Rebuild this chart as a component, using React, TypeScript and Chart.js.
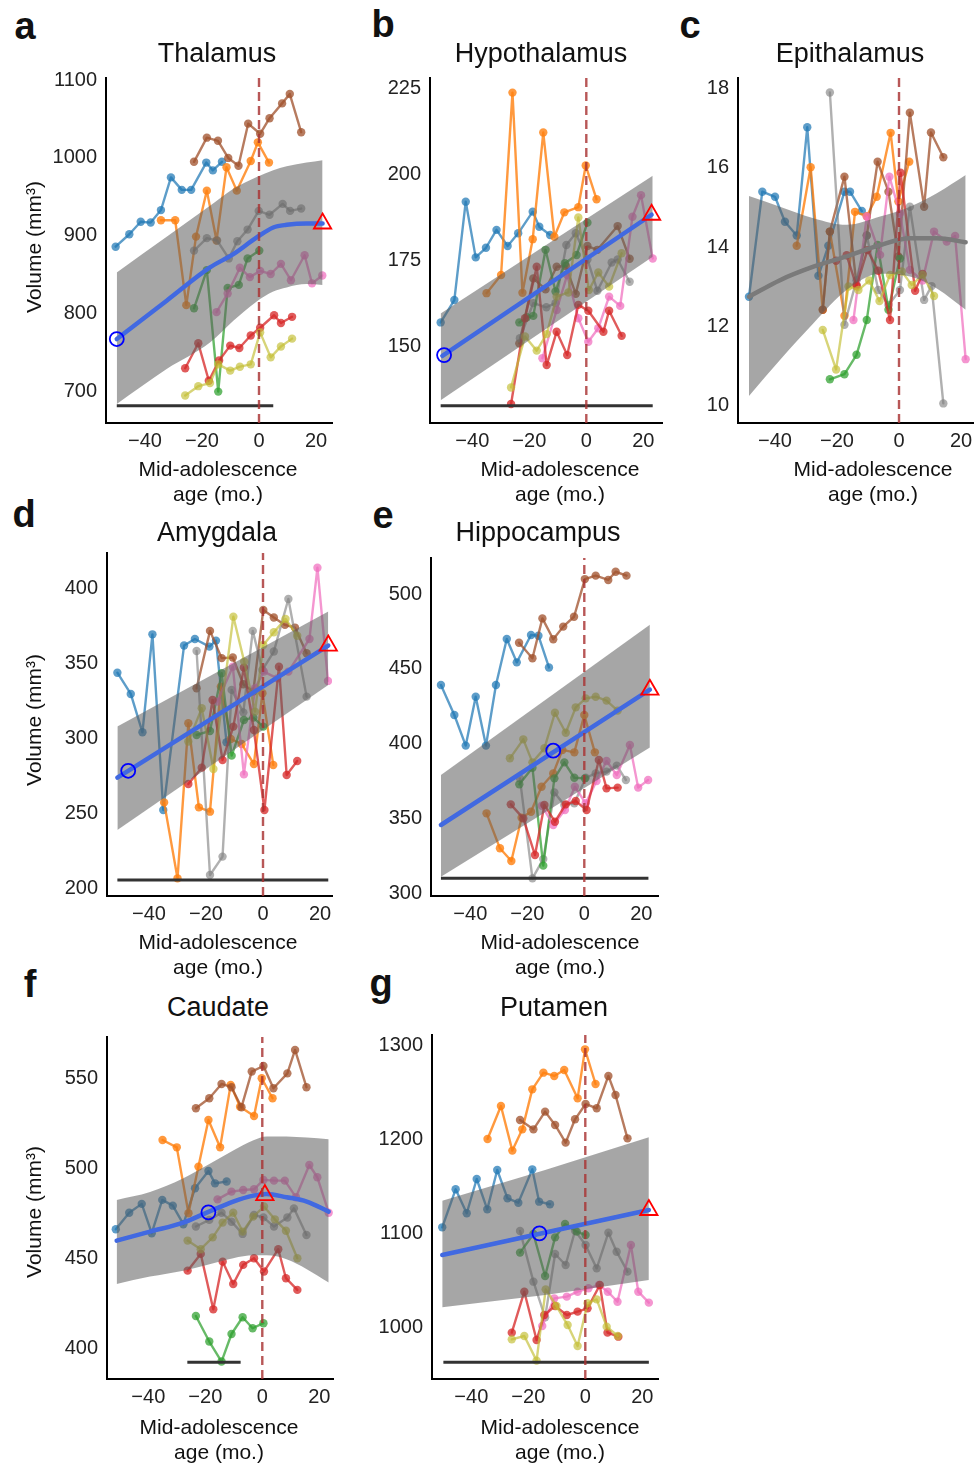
import React, { useEffect, useRef } from 'react';
import { Chart, registerables } from 'chart.js';
Chart.register(...registerables);

type P = [number, number];

const FONT = '"Liberation Sans", Arial, Helvetica, sans-serif';

// ---------- text ----------
const X_TICKS = [-40, -20, 0, 20];
const X_TITLE = ['Mid-adolescence', 'age (mo.)'];
const Y_TITLE = 'Volume (mm³)';
const LETTERS = ['a', 'b', 'c', 'd', 'e', 'f', 'g'];
const TITLES = ['Thalamus', 'Hypothalamus', 'Epithalamus', 'Amygdala', 'Hippocampus', 'Caudate', 'Putamen'];

// ---------- y ticks ----------
const thalTicks = [700, 800, 900, 1000, 1100];
const hypoTicks = [150, 175, 200, 225];
const epiTicks = [10, 12, 14, 16, 18];
const amyTicks = [200, 250, 300, 350, 400];
const hipTicks = [300, 350, 400, 450, 500];
const cauTicks = [400, 450, 500, 550];
const putTicks = [1000, 1100, 1200, 1300];

// ---------- a: Thalamus ----------
const thalBlue: P[] = [[-50.3,886],[-45.5,902],[-41.5,918],[-38.0,917],[-34.4,933],[-30.9,975],[-27.1,959],[-23.8,959],[-18.5,994],[-16.2,984],[-13.0,995]];
const thalOrange: P[] = [[-34.4,920],[-29.4,920],[-25.5,811],[-22.1,899],[-18.3,958],[-14.9,894],[-11.4,988],[-7.8,958],[-2.9,996],[-0.4,1020],[3.5,994]];
const thalBrown: P[] = [[-22.8,995],[-18.3,1026],[-14.4,1022],[-10.8,1000],[-7.2,990],[-3.8,1044],[0.4,1031],[3.7,1051],[8.1,1070],[10.8,1082],[14.8,1033]];
const thalGray: P[] = [[-22.8,881],[-18.3,897],[-14.7,894],[-10.6,871],[-7.6,893],[-4.0,908],[-0.1,932],[3.7,927],[8.3,941],[10.9,932],[14.8,935]];
const thalGreen: P[] = [[-22.8,807],[-18.3,856],[-14.3,700],[-11.0,833],[-7.1,837],[-4.0,871],[0.1,881]];
const thalPink: P[] = [[-14.9,802],[-11.0,826],[-6.7,859],[-3.2,847],[0.4,855],[4.1,851],[7.7,864],[11.2,843],[16.0,875],[18.6,839],[22.2,849]];
const thalRed: P[] = [[-25.9,730],[-21.3,762],[-17.6,714],[-14.0,740],[-10.1,759],[-6.9,756],[-2.9,772],[0.4,782],[5.3,798],[7.7,788],[11.6,796]];
const thalOlive: P[] = [[-25.9,695],[-21.3,707],[-17.2,711],[-14.3,735],[-10.1,727],[-6.7,732],[-2.9,735],[0.4,776],[4.1,744],[7.7,758],[11.6,768]];
const thalFitX = [-49.9,-32.4,-17.2,-9.0,-0.8,5.0,9.7,16.7,22.3];
const thalFitY = [767.5,816.7,859.4,876.5,897.9,910.7,914.1,915.8,915.8];
const thalUpper = [853,898.7,938.5,960.3,975.6,984.2,989.3,994,997];
const thalLower = [684.2,729,763,791,815.8,828.6,833.8,838,837];
const thalCircle: P = [-49.9, 767.5];
const thalTriangle: P = [22.3, 915.8];
const thalBase: P[] = [[-49.9,682],[5.0,682]];

// ---------- b: Hypothalamus ----------
const hypoBlue: P[] = [[-51.1,157.0],[-46.3,163.5],[-42.3,192.1],[-38.8,175.9],[-35.2,178.7],[-31.5,183.9],[-27.6,179.2],[-23.9,182.9],[-18.8,189.2],[-16.5,184.8],[-12.7,182.4]];
const hypoOrange: P[] = [[-35.0,165.5],[-29.9,170.8],[-25.9,223.8],[-22.4,165.6],[-18.8,181.2],[-15.1,212.2],[-11.2,181.9],[-7.7,189.0],[-2.8,190.5],[-0.2,202.6],[3.6,192.8]];
const hypoBrown: P[] = [[-23.5,150.9],[-18.6,169.8],[-14.3,166.6],[-10.4,173.2],[-7.2,173.4],[-3.7,165.3],[0.4,179.2],[3.9,178.1],[11.0,185.0],[15.2,175.5]];
const hypoGreen: P[] = [[-23.5,157.0],[-20.9,158.5],[-18.6,158.9],[-14.3,178.1],[-10.8,166.0],[-7.5,174.2],[-3.4,176.6],[0.4,186.0]];
const hypoGray: P[] = [[-23.3,152.4],[-18.6,162.6],[-14.0,161.4],[-10.8,162.6],[-7.0,179.5],[-3.7,182.9],[0.4,175.3],[3.9,166.2],[8.9,174.4],[11.0,175.3],[15.2,168.8]];
const hypoOlive: P[] = [[-26.4,138.1],[-21.5,152.9],[-17.4,148.8],[-13.9,153.6],[-10.4,164.5],[-6.3,165.7],[-2.8,187.5],[0.9,166.4],[4.2,171.5],[8.0,167.4],[12.4,177.1]];
const hypoRed: P[] = [[-26.4,133.3],[-21.5,158.2],[-17.4,173.2],[-13.9,144.6],[-10.4,154.3],[-6.7,147.5],[-2.8,162.1],[0.7,160.4],[6.0,154.3],[8.0,160.4],[12.4,153.1]];
const hypoPink: P[] = [[-15.4,146.6],[-10.4,160.6],[-6.7,170.8],[-2.8,158.2],[0.7,151.4],[4.2,155.3],[8.0,164.5],[11.9,161.8],[16.2,187.7],[19.2,194.0],[23.3,175.6]];
const hypoFitX = [-50.5, 22.9];
const hypoFitY = [147.3, 188.3];
const hypoBandX = [-51.1, 23.3];
const hypoUpper = [159.6, 199.6];
const hypoLower = [134.4, 176.1];
const hypoCircle: P = [-49.9, 147.5];
const hypoTriangle: P = [22.9, 188.3];
const hypoBase: P[] = [[-51.1,132.8],[23.3,132.8]];

// ---------- c: Epithalamus ----------
const epiBlue: P[] = [[-48.4,12.74],[-44.1,15.40],[-40.0,15.27],[-36.8,14.64],[-33.0,14.29],[-29.6,17.03],[-26.0,13.27],[-22.8,14.03],[-17.6,15.40],[-15.8,15.40],[-12.0,14.91]];
const epiOrange: P[] = [[-33.0,14.03],[-28.5,16.02],[-24.6,12.41],[-22.3,14.39],[-17.6,12.26],[-14.2,14.89],[-10.4,14.78],[-7.2,15.27],[-2.7,16.89],[-0.2,15.15],[3.3,16.16]];
const epiBrown: P[] = [[-24.6,12.41],[-22.3,14.39],[-17.6,15.78],[-13.7,13.04],[-10.4,14.29],[-6.9,16.16],[-3.4,15.40],[-0.2,13.76],[3.5,17.40],[8.1,15.02],[10.3,16.90],[14.3,16.27]];
const epiGray: P[] = [[-22.3,17.91],[-17.6,12.03],[-13.7,13.16],[-10.4,14.29],[-6.7,12.91],[-3.4,12.53],[0.3,12.91],[3.5,15.02],[8.1,12.66],[10.5,13.01],[14.3,10.04]];
const epiGreen: P[] = [[-22.3,10.65],[-17.6,10.78],[-13.7,11.27],[-10.4,12.15],[-6.9,14.05],[-3.4,12.41],[0.3,13.71]];
const epiOlive: P[] = [[-24.6,11.90],[-20.3,10.90],[-16.3,13.00],[-13.1,12.91],[-9.6,13.15],[-6.3,12.63],[-2.9,13.29],[0.9,13.38],[4.1,13.04],[7.6,13.29],[11.3,12.76]];
const epiPink: P[] = [[-14.7,12.15],[-10.4,14.77],[-6.1,13.80],[-3.1,15.78],[0.3,14.85],[3.5,13.42],[7.6,13.15],[11.3,14.39],[15.4,14.14],[18.1,14.28],[21.5,11.16]];
const epiRed: P[] = [[-20.3,13.65],[-16.9,13.79],[-13.7,13.01],[-10.2,13.92],[-6.7,13.40],[-2.9,12.15],[0.5,15.88],[5.2,12.89],[7.6,13.32]];
const epiFitX = [-48.4,-38.4,-27.6,-16.9,-6.1,3.5,12.2,21.5];
const epiFitY = [12.74,13.16,13.50,13.76,14.05,14.22,14.22,14.12];
const epiUpper = [15.29,15.02,14.73,14.56,14.77,15.02,15.36,15.82];
const epiLower = [10.23,11.14,12.07,12.91,13.32,13.25,12.95,12.41];

// ---------- d: Amygdala ----------
const amyBlue: P[] = [[-51.1,344.1],[-46.4,329.9],[-42.3,304.3],[-38.8,369.7],[-35.0,252.4],[-27.7,362.2],[-23.9,366.6],[-18.8,361.5],[-16.5,365.5],[-12.8,297.6]];
const amyOrange: P[] = [[-34.7,257.5],[-30.0,206.8],[-26.2,310.3],[-22.5,254.2],[-18.6,251.3],[-14.8,334.8],[-11.3,299.8],[-7.5,296.5],[-3.2,283.1],[-0.2,330.4],[3.6,282.5]];
const amyBrown: P[] = [[-23.3,333.7],[-18.6,372.0],[-14.5,353.8],[-10.6,354.2],[-6.9,336.4],[-3.4,331.5],[0.1,386.0],[3.8,380.9],[7.7,376.0],[11.2,374.2],[15.3,357.1]];
const amyGray: P[] = [[-23.3,358.6],[-18.6,209.0],[-14.2,221.3],[-11.0,332.6],[-6.9,317.6],[-3.6,372.0],[-0.2,345.9],[3.8,358.2],[8.9,393.3],[15.3,328.1]];
const amyOlive: P[] = [[-26.2,298.1],[-21.5,320.3],[-17.4,279.8],[-10.4,381.5],[-6.6,351.5],[-2.8,318.1],[0.1,362.6],[3.8,371.1],[7.9,380.0],[12.0,368.8]];
const amyGreen: P[] = [[-23.3,302.5],[-18.6,305.2],[-14.5,343.7],[-11.0,288.7],[-6.7,312.5],[-3.4,314.1],[0.1,308.1]];
const amyRed: P[] = [[-26.2,269.8],[-21.5,280.7],[-17.7,325.9],[-14.2,285.8],[-10.4,308.1],[-6.7,347.5],[-3.2,305.8],[0.5,252.4],[5.6,348.1],[8.3,275.8],[12.0,285.1]];
const amyPink: P[] = [[-16.0,324.8],[-10.6,348.1],[-6.7,276.2],[-2.8,333.7],[0.3,344.8],[5.0,340.3],[8.9,344.8],[16.3,366.6],[19.1,414.2],[22.8,338.6]];
const amyFitX = [-51.1, 22.9];
const amyFitY = [274.0, 362.2];
const amyBandX = [-51.1, 22.9];
const amyUpper = [308.1, 384.9];
const amyLower = [239.1, 335.9];
const amyCircle: P = [-47.3, 278.6];
const amyTriangle: P = [22.9, 362.2];
const amyBase: P[] = [[-51.1,205.7],[22.9,205.7]];

// ---------- e: Hippocampus ----------
const hipBlue: P[] = [[-50.3,439.1],[-45.6,419.1],[-41.6,398.6],[-38.1,431.3],[-34.5,398.6],[-31.0,439.1],[-27.2,469.9],[-23.7,454.3],[-18.7,472.6],[-16.1,472.1],[-12.4,450.9]];
const hipBrown: P[] = [[-22.9,467.4],[-18.2,457.0],[-14.7,483.7],[-10.9,469.7],[-7.4,478.2],[-3.6,484.8],[0.2,510.0],[4.0,512.3],[8.4,509.4],[11.0,514.9],[14.8,512.3]];
const hipOlive: P[] = [[-26.1,390.1],[-21.4,402.8],[-18.2,387.4],[-14.0,396.8],[-10.3,420.6],[-6.5,407.2],[-3.0,424.2],[0.5,430.2],[4.0,431.3],[7.8,428.7],[11.7,422.0]];
const hipOrange: P[] = [[-34.3,353.3],[-29.6,329.9],[-25.6,321.4],[-22.0,350.4],[-18.7,354.4],[-15.0,371.1],[-10.9,380.0],[-7.7,395.7],[-3.5,394.1],[0.0,419.1],[3.7,394.1]];
const hipGreen: P[] = [[-22.8,372.7],[-18.2,383.8],[-14.4,318.3],[-10.5,376.7],[-7.0,387.4],[-3.5,377.1],[0.2,376.7]];
const hipGray: P[] = [[-22.6,376.7],[-18.2,309.8],[-14.4,322.7],[-10.5,367.3],[-7.0,358.9],[-3.5,360.0],[0.5,377.1],[4.0,380.0],[7.8,381.2],[11.4,385.2],[14.6,375.6]];
const hipRed: P[] = [[-25.8,359.3],[-21.4,349.9],[-17.3,325.4],[-14.0,358.9],[-10.3,347.7],[-6.5,359.3],[-3.0,361.5],[0.8,355.5],[5.1,389.0],[7.8,370.0],[11.7,370.5]];
const hipPink: P[] = [[-14.9,358.4],[-10.9,345.5],[-6.8,355.5],[-3.3,371.1],[0.5,360.0],[4.3,374.9],[7.8,388.3],[11.4,378.9],[16.0,399.0],[18.9,370.5],[22.4,375.6]];
const hipFitX = [-50.3, 23.0];
const hipFitY = [345.5, 436.0];
const hipBandX = [-50.3, 23.0];
const hipUpper = [378.9, 479.5];
const hipLower = [310.9, 397.3];
const hipCircle: P = [-10.9, 395.2];
const hipTriangle: P = [23.0, 436.0];
const hipBase: P[] = [[-50.3,309.8],[22.5,309.8]];

// ---------- f: Caudate ----------
const cauBlue: P[] = [[-51.4,466.5],[-46.7,475.7],[-42.3,480.6],[-38.8,464.3],[-35.1,482.8],[-31.4,479.6],[-27.7,469.3],[-23.6,489.3],[-18.9,498.9],[-16.6,492.0],[-12.5,493.0]];
const cauOrange: P[] = [[-35.0,516.1],[-30.0,512.0],[-25.9,475.4],[-22.4,501.3],[-18.9,527.2],[-14.8,512.0],[-11.1,546.7],[-7.8,534.6],[-2.9,529.4],[-0.2,550.4],[3.6,539.3]];
const cauBrown: P[] = [[-23.3,533.7],[-18.6,539.3],[-14.3,547.2],[-10.8,545.4],[-7.3,534.3],[-3.7,554.1],[0.4,557.2],[3.9,544.8],[8.8,553.1],[11.5,566.1],[15.5,545.4]];
const cauPink: P[] = [[-15.7,483.1],[-10.8,487.4],[-6.7,488.3],[-2.9,488.7],[0.4,493.9],[4.1,493.5],[7.9,493.5],[11.8,484.3],[16.5,502.2],[19.3,495.4],[23.3,475.7]];
const cauGray: P[] = [[-23.3,468.0],[-18.6,471.7],[-14.3,475.7],[-10.8,470.7],[-6.9,463.9],[-2.9,474.4],[0.4,473.1],[4.1,468.0],[8.8,473.0],[11.1,478.1],[15.5,463.3]];
const cauOlive: P[] = [[-26.2,460.2],[-21.6,455.4],[-17.4,462.0],[-13.9,470.2],[-10.2,475.7],[-6.9,465.2],[-3.2,473.5],[0.6,479.1],[4.4,472.0],[8.3,465.7],[12.3,450.4]];
const cauRed: P[] = [[-26.2,443.5],[-21.6,452.8],[-17.2,422.0],[-13.9,448.5],[-10.2,436.1],[-6.7,446.7],[-2.9,450.4],[0.6,443.0],[5.6,455.4],[8.3,439.3],[12.3,432.8]];
const cauGreen: P[] = [[-23.3,418.3],[-18.6,404.1],[-14.3,393.0],[-10.8,408.3],[-6.9,417.6],[-3.4,411.5],[0.4,414.3]];
const cauFitX = [-51.1,-39.4,-27.7,-19.5,-10.2,-3.1,1.5,8.5,15.6,23.3];
const cauFitY = [460.2,465.2,470.2,475.7,481.9,485.2,486.1,484.3,481.9,476.3];
const cauUpper = [482.8,487.2,494.8,501.9,510.2,515.9,518.0,518.0,517.4,516.5];
const cauLower = [436.1,440.2,443.5,446.7,450.4,452.0,452.0,449.8,444.3,436.9];
const cauCircle: P = [-18.9, 475.9];
const cauTriangle: P = [0.9, 485.5];
const cauBase: P[] = [[-26.3,392.6],[-7.6,392.6]];

// ---------- g: Putamen ----------
const putBlue: P[] = [[-50.2,1106.4],[-45.5,1147.0],[-41.6,1121.4],[-38.1,1158.0],[-34.4,1125.6],[-30.9,1167.6],[-27.3,1137.4],[-23.5,1132.7],[-18.6,1168.3],[-16.2,1133.8],[-12.4,1131.0]];
const putOrange: P[] = [[-34.3,1200.7],[-29.6,1235.9],[-25.6,1188.3],[-22.1,1211.0],[-18.6,1253.7],[-14.7,1271.5],[-10.9,1268.0],[-7.4,1274.4],[-2.7,1244.1],[-0.1,1296.4],[3.6,1259.4]];
const putBrown: P[] = [[-22.9,1221.0],[-18.2,1211.0],[-14.1,1229.9],[-10.6,1215.7],[-6.9,1196.8],[-3.6,1221.7],[0.1,1238.1],[4.0,1233.5],[8.1,1268.0],[10.6,1247.7],[14.8,1201.4]];
const putGray: P[] = [[-22.9,1102.5],[-18.2,1048.4],[-14.1,1010.3],[-10.6,1077.9],[-6.9,1066.2],[-3.6,1102.8],[0.1,1087.5],[4.0,1062.6],[8.1,1100.7],[11.0,1080.4],[14.8,1059.1]];
const putGreen: P[] = [[-22.9,1079.4],[-18.2,1099.3],[-14.1,1054.4],[-10.6,1095.7],[-7.1,1110.0],[-3.0,1101.8],[0.1,1098.2]];
const putRed: P[] = [[-25.8,994.0],[-21.4,1037.7],[-17.1,986.1],[-14.4,1012.8],[-10.6,1022.4],[-6.5,1012.8],[-2.7,1016.4],[0.8,1019.9],[5.1,1044.8],[7.8,994.0],[11.6,989.7]];
const putOlive: P[] = [[-25.8,986.8],[-21.4,990.4],[-17.1,964.1],[-13.9,1040.2],[-10.1,1022.4],[-6.2,1002.1],[-2.7,979.7],[0.8,1025.3],[4.0,1029.5],[7.5,1000.4],[11.4,990.4]];
const putPink: P[] = [[-15.1,1001.1],[-10.9,1030.6],[-6.5,1032.4],[-2.7,1037.7],[1.1,1041.3],[4.8,1044.8],[7.9,1037.7],[11.3,1027.0],[16.0,1087.5],[18.6,1037.7],[22.3,1026.0]];
const putFitX = [-50.2, 22.3];
const putFitY = [1076.9, 1124.9];
const putBandX = [-50.2, -14.1, 22.3];
const putUpper = [1134.9, 1167.6, 1202.5];
const putLower = [1021.0, 1034.2, 1050.2];
const putCircle: P = [-16.1, 1100.0];
const putTriangle: P = [22.3, 1124.9];
const putBase: P[] = [[-49.8,962.3],[22.3,962.3]];

// ---------- styles ----------
const C = {
  blue: 'rgba(31,119,180,0.72)',
  orange: 'rgba(255,127,14,0.8)',
  green: 'rgba(44,160,44,0.72)',
  red: 'rgba(214,39,40,0.76)',
  brown: 'rgba(160,82,45,0.76)',
  pink: 'rgba(240,110,190,0.72)',
  gray: 'rgba(127,127,127,0.62)',
  olive: 'rgba(195,190,50,0.66)',
};

interface Spec {
  L: number; T: number; R: number; B: number;
  xMin: number; xMax: number; yMin: number; yMax: number;
  yTicks: number[];
  series: { pts: P[]; color: string }[];
  fitX: number[]; fitY: number[]; fitColor: string; curved: boolean;
  bandX: number[]; upper: number[]; lower: number[];
  circle?: P; triangle?: P; base?: P[];
}

const SPECS: Spec[] = [
  {
    L: 106, T: 78, R: 332, B: 423, xMin: -53.68, xMax: 25.61, yMin: 659.7, yMax: 1102.6, yTicks: thalTicks,
    series: [
      { pts: thalOlive, color: C.olive }, { pts: thalRed, color: C.red }, { pts: thalPink, color: C.pink },
      { pts: thalGreen, color: C.green }, { pts: thalGray, color: C.gray }, { pts: thalBrown, color: C.brown },
      { pts: thalOrange, color: C.orange }, { pts: thalBlue, color: C.blue },
    ],
    fitX: thalFitX, fitY: thalFitY, fitColor: '#4169E1', curved: true,
    bandX: thalFitX, upper: thalUpper, lower: thalLower,
    circle: thalCircle, triangle: thalTriangle, base: thalBase,
  },
  {
    L: 430, T: 78, R: 662, B: 423, xMin: -54.84, xMax: 26.56, yMin: 127.76, yMax: 228.05, yTicks: hypoTicks,
    series: [
      { pts: hypoOlive, color: C.olive }, { pts: hypoRed, color: C.red }, { pts: hypoPink, color: C.pink },
      { pts: hypoGreen, color: C.green }, { pts: hypoGray, color: C.gray }, { pts: hypoBrown, color: C.brown },
      { pts: hypoOrange, color: C.orange }, { pts: hypoBlue, color: C.blue },
    ],
    fitX: hypoFitX, fitY: hypoFitY, fitColor: '#4169E1', curved: false,
    bandX: hypoBandX, upper: hypoUpper, lower: hypoLower,
    circle: hypoCircle, triangle: hypoTriangle, base: hypoBase,
  },
  {
    L: 738, T: 78, R: 973, B: 423, xMin: -51.94, xMax: 23.87, yMin: 9.544, yMax: 18.278, yTicks: epiTicks,
    series: [
      { pts: epiOlive, color: C.olive }, { pts: epiRed, color: C.red }, { pts: epiPink, color: C.pink },
      { pts: epiGreen, color: C.green }, { pts: epiGray, color: C.gray }, { pts: epiBrown, color: C.brown },
      { pts: epiOrange, color: C.orange }, { pts: epiBlue, color: C.blue },
    ],
    fitX: epiFitX, fitY: epiFitY, fitColor: '#7a7a7a', curved: true,
    bandX: epiFitX, upper: epiUpper, lower: epiLower,
  },
  {
    L: 107, T: 553, R: 332, B: 896, xMin: -54.74, xMax: 24.21, yMin: 195.0, yMax: 424.0, yTicks: amyTicks,
    series: [
      { pts: amyOlive, color: C.olive }, { pts: amyRed, color: C.red }, { pts: amyPink, color: C.pink },
      { pts: amyGreen, color: C.green }, { pts: amyGray, color: C.gray }, { pts: amyBrown, color: C.brown },
      { pts: amyOrange, color: C.orange }, { pts: amyBlue, color: C.blue },
    ],
    fitX: amyFitX, fitY: amyFitY, fitColor: '#4169E1', curved: false,
    bandX: amyBandX, upper: amyUpper, lower: amyLower,
    circle: amyCircle, triangle: amyTriangle, base: amyBase,
  },
  {
    L: 431, T: 558, R: 658, B: 896, xMin: -53.79, xMax: 25.86, yMin: 298.0, yMax: 524.1, yTicks: hipTicks,
    series: [
      { pts: hipOlive, color: C.olive }, { pts: hipRed, color: C.red }, { pts: hipPink, color: C.pink },
      { pts: hipGreen, color: C.green }, { pts: hipGray, color: C.gray }, { pts: hipBrown, color: C.brown },
      { pts: hipOrange, color: C.orange }, { pts: hipBlue, color: C.blue },
    ],
    fitX: hipFitX, fitY: hipFitY, fitColor: '#4169E1', curved: false,
    bandX: hipBandX, upper: hipUpper, lower: hipLower,
    circle: hipCircle, triangle: hipTriangle, base: hipBase,
  },
  {
    L: 107, T: 1037, R: 333, B: 1379, xMin: -54.49, xMax: 24.81, yMin: 383.3, yMax: 573.3, yTicks: cauTicks,
    series: [
      { pts: cauOlive, color: C.olive }, { pts: cauRed, color: C.red }, { pts: cauPink, color: C.pink },
      { pts: cauGreen, color: C.green }, { pts: cauGray, color: C.gray }, { pts: cauBrown, color: C.brown },
      { pts: cauOrange, color: C.orange }, { pts: cauBlue, color: C.blue },
    ],
    fitX: cauFitX, fitY: cauFitY, fitColor: '#4169E1', curved: true,
    bandX: cauFitX, upper: cauUpper, lower: cauLower,
    circle: cauCircle, triangle: cauTriangle, base: cauBase,
  },
  {
    L: 432, T: 1035, R: 658, B: 1379, xMin: -53.79, xMax: 25.51, yMin: 944.5, yMax: 1311.7, yTicks: putTicks,
    series: [
      { pts: putOlive, color: C.olive }, { pts: putRed, color: C.red }, { pts: putPink, color: C.pink },
      { pts: putGreen, color: C.green }, { pts: putGray, color: C.gray }, { pts: putBrown, color: C.brown },
      { pts: putOrange, color: C.orange }, { pts: putBlue, color: C.blue },
    ],
    fitX: putFitX, fitY: putFitY, fitColor: '#4169E1', curved: false,
    bandX: putBandX, upper: putUpper, lower: putLower,
    circle: putCircle, triangle: putTriangle, base: putBase,
  },
];

const PAD_L = 100, PAD_R = 16, PAD_T = 14, PAD_B = 44;

const fmt = (v: number) => (v < 0 ? '\u2212' + Math.abs(v) : String(v));
const xy = (pts: P[]) => pts.map(([x, y]) => ({ x, y }));
const zip = (xs: number[], ys: number[]) => xs.map((x, i) => ({ x, y: ys[i] }));

function buildConfig(s: Spec): any {
  const ds: any[] = [];
  ds.push({
    data: [{ x: 0, y: s.yMin }, { x: 0, y: s.yMax }],
    borderColor: 'rgba(168,50,50,0.82)', borderWidth: 2.4, borderDash: [9, 5],
    pointRadius: 0, order: 0,
  });
  if (s.triangle) ds.push({
    data: xy([s.triangle]), showLine: false, pointStyle: 'triangle', pointRadius: 10,
    pointBorderColor: '#ff0000', pointBackgroundColor: 'rgba(0,0,0,0)', pointBorderWidth: 1.8,
    order: 1, clip: false,
  });
  if (s.circle) ds.push({
    data: xy([s.circle]), showLine: false, pointStyle: 'circle', pointRadius: 7,
    pointBorderColor: '#0000ff', pointBackgroundColor: 'rgba(0,0,0,0)', pointBorderWidth: 1.8,
    order: 1, clip: false,
  });
  ds.push({
    data: zip(s.fitX, s.fitY), borderColor: s.fitColor, borderWidth: 4.5, pointRadius: 0,
    tension: s.curved ? 0.4 : 0, cubicInterpolationMode: s.curved ? 'monotone' : 'default',
    borderCapStyle: 'round', borderJoinStyle: 'round', order: 2,
  });
  if (s.base) ds.push({
    data: xy(s.base), borderColor: '#333333', borderWidth: 3, pointRadius: 0, order: 3,
  });
  ds.push({
    data: zip(s.bandX, s.lower), borderWidth: 0, borderColor: 'rgba(0,0,0,0)', pointRadius: 0,
    tension: s.curved ? 0.4 : 0, cubicInterpolationMode: s.curved ? 'monotone' : 'default', order: 4,
  });
  ds.push({
    data: zip(s.bandX, s.upper), borderWidth: 0, borderColor: 'rgba(0,0,0,0)', pointRadius: 0,
    tension: s.curved ? 0.4 : 0, cubicInterpolationMode: s.curved ? 'monotone' : 'default',
    fill: '-1', backgroundColor: 'rgba(92,92,92,0.55)', order: 4,
  });
  s.series.forEach((sr) => {
    ds.push({
      data: xy(sr.pts), borderColor: sr.color, backgroundColor: sr.color,
      pointBackgroundColor: sr.color, pointBorderColor: 'rgba(0,0,0,0)', pointBorderWidth: 0,
      pointRadius: 4.2, borderWidth: 2.4, tension: 0, borderJoinStyle: 'round', borderCapStyle: 'round',
      order: 10,
    });
  });
  const tickFont = { family: FONT, size: 20, lineHeight: 1.2 };
  return {
    type: 'line',
    data: { datasets: ds },
    options: {
      responsive: false, animation: false, devicePixelRatio: 1, events: [],
      layout: { padding: { top: PAD_T, right: PAD_R, left: 0, bottom: 0 }, autoPadding: false },
      plugins: { legend: { display: false }, tooltip: { enabled: false }, title: { display: false } },
      scales: {
        x: {
          type: 'linear', min: s.xMin, max: s.xMax,
          grid: { display: false, drawTicks: false },
          border: { display: true, color: '#000', width: 2 },
          ticks: { font: tickFont, color: '#222', padding: 6, maxRotation: 0, minRotation: 0, autoSkip: false, callback: (v: number) => fmt(v) },
          afterBuildTicks: (sc: any) => { sc.ticks = X_TICKS.map((v) => ({ value: v })); },
          afterFit: (sc: any) => { sc.height = PAD_B; sc.paddingLeft = 0; sc.paddingRight = 0; sc.paddingTop = 0; sc.paddingBottom = 0; },
        },
        y: {
          type: 'linear', min: s.yMin, max: s.yMax,
          grid: { display: false, drawTicks: false },
          border: { display: true, color: '#000', width: 2 },
          ticks: { font: tickFont, color: '#222', padding: 9, autoSkip: false, callback: (v: number) => fmt(v) },
          afterBuildTicks: (sc: any) => { sc.ticks = s.yTicks.map((v) => ({ value: v })); },
          afterFit: (sc: any) => { sc.width = PAD_L; sc.paddingTop = 0; sc.paddingBottom = 0; sc.paddingLeft = 0; sc.paddingRight = 0; },
        },
      },
    },
  };
}

function Panel({ spec }: { spec: Spec }) {
  const ref = useRef<HTMLCanvasElement | null>(null);
  const w = spec.R - spec.L + PAD_L + PAD_R;
  const h = spec.B - spec.T + PAD_T + PAD_B;
  useEffect(() => {
    if (!ref.current) return;
    const chart = new Chart(ref.current, buildConfig(spec));
    return () => chart.destroy();
  }, [spec]);
  return (
    <canvas
      ref={ref}
      width={w}
      height={h}
      style={{ position: 'absolute', left: spec.L - PAD_L, top: spec.T - PAD_T, width: w, height: h }}
    />
  );
}

function Txt({ x, base, size, bold, children }: { x: number; base: number; size: number; bold?: boolean; children: React.ReactNode }) {
  return (
    <div
      style={{
        position: 'absolute', left: x, top: base - 0.8465 * size, transform: 'translateX(-50%)',
        fontFamily: FONT, fontSize: size, fontWeight: bold ? 700 : 400, lineHeight: 1,
        whiteSpace: 'nowrap', color: '#111',
      }}
    >
      {children}
    </div>
  );
}

const LETTER_POS: [number, number][] = [[25, 39], [383, 37], [690, 38.5], [24, 527], [383, 528], [30, 997], [381, 996]];
const TITLE_POS: [number, number][] = [[217, 63], [541, 63], [850, 63], [217, 542], [538, 542], [218, 1017], [554, 1017]];
const XTITLE_POS: [number, number][] = [[218, 475.5], [560, 475.5], [873, 475.5], [218, 949], [560, 949], [219, 1434], [560, 1434]];
const YTITLE_POS: [number, number][] = [[33, 247], [33, 720], [33, 1212]];

export default function App() {
  return (
    <div style={{ position: 'absolute', left: 0, top: 0, width: 974, height: 1464, overflow: 'hidden', background: '#fff' }}>
      {SPECS.map((s, i) => <Panel key={i} spec={s} />)}
      {LETTERS.map((l, i) => (
        <Txt key={'l' + i} x={LETTER_POS[i][0]} base={LETTER_POS[i][1]} size={38} bold>{l}</Txt>
      ))}
      {TITLES.map((t, i) => (
        <Txt key={'t' + i} x={TITLE_POS[i][0]} base={TITLE_POS[i][1]} size={27}>{t}</Txt>
      ))}
      {XTITLE_POS.map((p, i) => (
        <React.Fragment key={'x' + i}>
          <Txt x={p[0]} base={p[1]} size={21}>{X_TITLE[0]}</Txt>
          <Txt x={p[0]} base={p[1] + 25} size={21}>{X_TITLE[1]}</Txt>
        </React.Fragment>
      ))}
      {YTITLE_POS.map((p, i) => (
        <div
          key={'y' + i}
          style={{
            position: 'absolute', left: p[0], top: p[1], transform: 'translate(-50%,-50%) rotate(-90deg)',
            fontFamily: FONT, fontSize: 21, lineHeight: 1, whiteSpace: 'nowrap', color: '#111',
          }}
        >
          {Y_TITLE}
        </div>
      ))}
    </div>
  );
}
